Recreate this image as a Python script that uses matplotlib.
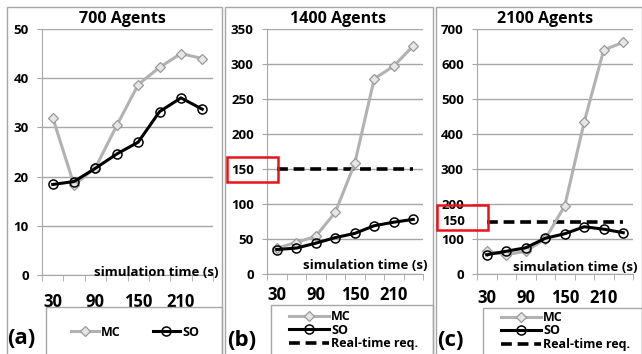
import matplotlib
matplotlib.use("Agg")
import matplotlib.pyplot as plt
from matplotlib.patches import Rectangle

plt.rcParams['font.family'] = ['Open Sans', 'DejaVu Sans']
plt.rcParams['font.weight'] = 'bold'

# simulation time categories (s)
times = [30, 60, 90, 120, 150, 180, 210, 240]
shown_ticks = ['30', '90', '150', '210']

mc_700 = [32, 18.3, 21.8, 30.4, 38.7, 42.2, 45, 44]
so_700 = [18.4, 19, 21.7, 24.6, 27, 33.2, 36, 33.7]

mc_1400 = [37, 45, 54, 88, 158, 279, 297, 326]
so_1400 = [35, 37, 44, 52, 58, 69, 74, 78]

mc_2100 = [65, 55, 65, 100, 195, 435, 640, 662]
so_2100 = [55, 65, 75, 102, 115, 135, 128, 118]

realtime = 150

W, H = 642, 354
fig = plt.figure(figsize=(W / 100, H / 100), dpi=100)

GRID = '#a6a6a6'
MCCOL = '#b2b2b2'


def px_rect(x0, y0, x1, y1, **kw):
    # rectangle given in pixels from the top-left corner
    r = Rectangle((x0 / W, 1 - y1 / H), (x1 - x0) / W, (y1 - y0) / H,
                  transform=fig.transFigure, fill=False, clip_on=False, **kw)
    fig.add_artist(r)


def make_axes(x0, x1, ytop, ybot):
    return fig.add_axes([x0 / W, 1 - ybot / H, (x1 - x0) / W, (ybot - ytop) / H])


def style(ax, ymax, ystep, title, title_x, xpad, sim_y):
    n = len(times)
    ax.set_xlim(-0.5, n - 0.5)
    ax.set_ylim(0, ymax)
    ax.set_yticks(range(0, ymax + 1, ystep))
    ax.set_xticks([0, 2, 4, 6])
    ax.set_xticklabels(shown_ticks, fontsize=12, fontweight='bold')
    ax.set_xticks([i - 0.5 for i in range(n + 1)], minor=True)
    ax.tick_params(axis='x', which='major', length=0, pad=xpad)
    ax.tick_params(axis='x', which='minor', length=4.5, color=GRID, direction='out')
    ax.tick_params(axis='y', length=3.5, color=GRID, pad=6, labelsize=9.5)
    for lbl in ax.get_yticklabels():
        lbl.set_fontweight('bold')
    ax.grid(axis='y', color=GRID, lw=1)
    ax.set_axisbelow(True)
    for s in ('top', 'right'):
        ax.spines[s].set_visible(False)
    for s in ('left', 'bottom'):
        ax.spines[s].set_color(GRID)
    fig.text(title_x / W, 1 - 19 / H, title, fontsize=11.5, fontweight='bold',
             ha='center', va='center')
    ax.text(1.03, sim_y, 'simulation time (s)', transform=ax.transAxes,
            ha='right', va='bottom', fontsize=9.5, fontweight='bold')


def draw_series(ax, mc, so):
    x = range(len(times))
    ax.plot(x, mc, color=MCCOL, lw=2.2, marker='D', ms=5.5, mfc='#e6e6e6',
            mec='#999999', mew=0.9, label='MC', zorder=3)
    ax.plot(x, so, color='black', lw=2.2, marker='o', ms=6.5, mfc='none',
            mec='black', mew=1.1, label='SO', zorder=4)


# panel borders
px_rect(7, 7, 222, 400, ec=GRID, lw=1)
px_rect(225, 7, 433, 400, ec=GRID, lw=1)
px_rect(436, 7, 642, 400, ec=GRID, lw=1)

# (a) 700 agents
ax1 = make_axes(42, 213, 29, 275)
draw_series(ax1, mc_700, so_700)
style(ax1, 50, 10, '700 Agents', 122, 13, -0.015)

# (b) 1400 agents
ax2 = make_axes(267, 423, 29, 274)
draw_series(ax2, mc_1400, so_1400)
ax2.plot([0, len(times) - 1], [realtime, realtime], color='black', lw=2.6,
         dashes=(3, 1.6), label='Real-time req.', zorder=2)
style(ax2, 350, 50, '1400 Agents', 338, 9, 0.01)

# (c) 2100 agents
ax3 = make_axes(477, 633, 29, 274)
draw_series(ax3, mc_2100, so_2100)
ax3.plot([0, len(times) - 1], [realtime, realtime], color='black', lw=2.6,
         dashes=(3, 1.6), label='Real-time req.', zorder=2)
style(ax3, 700, 100, '2100 Agents', 545, 11, -0.002)
ax3.annotate('150', xy=(0, realtime), xycoords=ax3.get_yaxis_transform(),
             xytext=(-8.5, 0), textcoords='offset points', ha='right', va='center',
             fontsize=9.5, fontweight='bold',
             bbox=dict(boxstyle='square,pad=0.05', fc='white', ec='none'))

# red highlight boxes
px_rect(227, 157, 278, 182, ec='#e8141b', lw=1.8)
px_rect(437, 205, 488, 230, ec='#e8141b', lw=1.8)

# legend boxes
px_rect(46, 307, 222, 400, ec=GRID, lw=1)
px_rect(271, 305, 433, 400, ec=GRID, lw=1)
px_rect(483, 308, 642, 400, ec=GRID, lw=1)

h1, l1 = ax1.get_legend_handles_labels()
ax1.legend(h1, l1, ncol=2, loc='center', bbox_to_anchor=(135 / W, 1 - 332 / H),
           bbox_transform=fig.transFigure, frameon=False, fontsize=9,
           handlelength=2.2, columnspacing=2.6, handletextpad=0.15)

for ax, x0, yc in ((ax2, 289, 330), (ax3, 501, 331)):
    h, l = ax.get_legend_handles_labels()
    ax.legend(h, l, ncol=1, loc='center left', bbox_to_anchor=(x0 / W, 1 - yc / H),
              bbox_transform=fig.transFigure, frameon=False, fontsize=9,
              handlelength=3.2, handletextpad=0.15, labelspacing=0.05,
              borderpad=0, borderaxespad=0)

# panel letters
fig.text(7 / W, 1 - 339 / H, '(a)', fontsize=16, fontweight='bold', va='center')
fig.text(227 / W, 1 - 340 / H, '(b)', fontsize=16, fontweight='bold', va='center')
fig.text(437 / W, 1 - 340 / H, '(c)', fontsize=16, fontweight='bold', va='center')

fig.savefig('out.png', dpi=100)
